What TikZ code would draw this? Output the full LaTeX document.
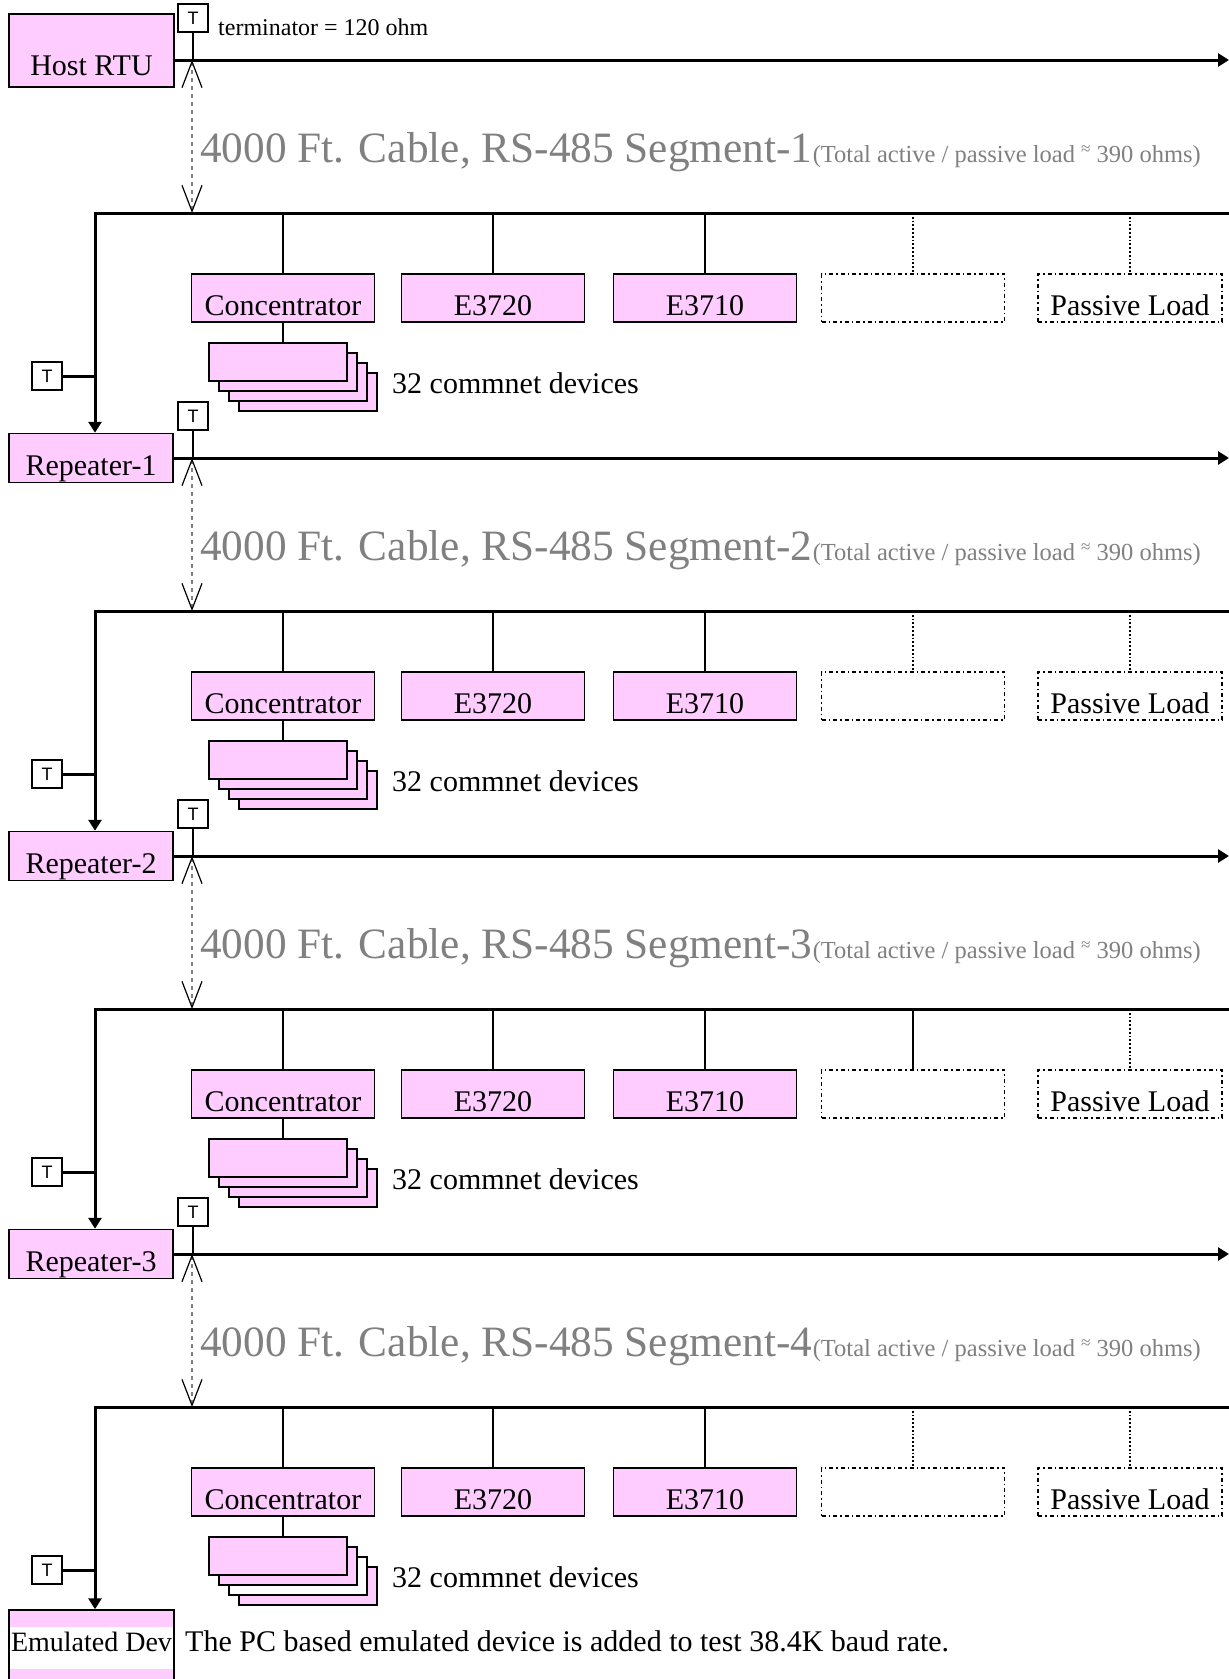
\documentclass[tikz,border=0pt]{standalone}
\usepackage{fontspec}
\setmainfont{Liberation Serif}
\setsansfont{Liberation Sans}
\usetikzlibrary{arrows.meta}
\definecolor{boxpink}{RGB}{255,204,255}
\definecolor{cablegray}{RGB}{128,128,128}
\newcommand\bodyfont{\fontsize{30}{36}\selectfont}

\begin{document}
\begin{tikzpicture}[x=1pt,y=-1pt,
    unit/.style={draw,fill=boxpink,line width=1.5pt,minimum width=183pt,minimum height=48pt,
      inner sep=0pt,text height=34pt,text depth=0pt,font=\bodyfont},
    spare/.style={unit,fill=none,dash pattern=on 4pt off 3pt on 1.5pt off 3pt},
    card/.style={draw,line width=1.5pt,minimum width=138pt,minimum height=38pt,inner sep=0pt},
    term/.style={draw,line width=1.2pt,minimum width=30pt,minimum height=28pt,inner sep=0pt,
      font=\sffamily\fontsize{18}{18}\selectfont},
    bus/.style={line width=3pt},
    drop/.style={line width=1.5pt},
    dropdot/.style={line width=1.8pt,dotted},
    cable/.style={cablegray,line width=1.2pt,dash pattern=on 4pt off 4pt,
      {Straight Barb[length=26pt,width=20pt,color=black,line width=1.2pt]}-{Straight Barb[length=26pt,width=20pt,color=black,line width=1.2pt]}},
    tip/.style={-{Triangle[length=11pt,width=13pt]}}]
  \useasboundingbox (0,0) rectangle (1229,1679);

  \node[unit,minimum width=165pt,minimum height=73pt,text height=49pt] (host) at (91.5,50.5) {Host RTU};
  \foreach \r in {1,2,3}
    \node[unit,minimum width=164pt,minimum height=49pt] (rep\r) at (91,60+398*\r) {Repeater-\r};
  \node[unit,minimum width=165pt,minimum height=100pt,text height=21pt,text depth=38pt,
    font=\fontsize{28}{34}\selectfont,
    path picture={\fill[white] ([yshift=-17pt]path picture bounding box.north west)
      rectangle ([yshift=-59pt]path picture bounding box.north east);}]
    (emu) at (91.5,1660) {\makebox[165pt]{Emulated Dev}};

  \foreach \s/\src/\dst/\sd in {1/host/rep1/dropdot,2/rep1/rep2/dropdot,3/rep2/rep3/drop,4/rep3/emu/dropdot}
  {
    \pgfmathsetmacro\yb{60+398*(\s-1)}
    \coordinate (in\s) at (192,\yb);
    \coordinate (bus\s) at (95,\yb+153);
    \draw[bus,tip] (\src.east |- in\s) -- (1229,\yb);
    \node[term] (tt\s) at (193,\yb-42) {T};
    \draw[drop] (tt\s.south) -- (tt\s.south |- in\s);
    \draw[cable] (in\s) -- (in\s |- bus\s);
    \node[anchor=base west,inner sep=0pt,text=cablegray,font=\fontsize{43.3}{44}\selectfont]
      (seg\s) at (200,\yb+102) {4000 Ft. Cable, RS-485 Segment-\s};
    \node[anchor=base west,inner sep=0pt,text=cablegray,font=\fontsize{24.5}{25}\selectfont]
      (load\s) at (seg\s.base east) {(Total active / passive load \raisebox{.3em}{\scalebox{.7}{≈}} 390 ohms)};

    \draw[bus,tip] (1229,\yb+153) -- (bus\s) -- (bus\s |- \dst.north);
    \node[term] (tl\s) at (47,\yb+316) {T};
    \draw[bus] (tl\s) -- (tl\s -| bus\s);

    \foreach \n/\lbl/\cx in {conc/Concentrator/283,ea/E3720/493,eb/E3710/705}
    {
      \node[unit] (\n\s) at (\cx,\yb+238) {\lbl};
      \draw[drop] (\n\s.north |- bus\s) -- (\n\s.north);
    }
    \node[spare] (spare\s) at (913,\yb+238) {};
    \node[spare,minimum width=184pt] (pass\s) at (1130,\yb+238) {Passive Load};
    \draw[\sd] (spare\s.north |- bus\s) -- (spare\s.north);
    \draw[dropdot] (pass\s.north |- bus\s) -- (pass\s.north);

    \foreach \k in {3,2,1,0}
    {
      \ifnum\s\k=42 \def\cardfill{white}\else\def\cardfill{boxpink}\fi
      \node[card,fill=\cardfill] (card\s\k) at (278+10*\k,\yb+302+10*\k) {};
    }
    \draw[drop] (conc\s.south) -- (conc\s.south |- card\s0.north);
    \node[anchor=base west,inner sep=0pt,font=\bodyfont] (devs\s) at (392,\yb+333) {32 commnet devices};
  }

  \node[anchor=base west,inner sep=0pt,font=\fontsize{24}{24}\selectfont] (termtxt) at (218,35) {terminator = 120 ohm};
  \node[anchor=base west,inner sep=0pt,font=\bodyfont] (emutxt) at (185,1651)
    {The PC based emulated device is added to test 38.4K baud rate.};
\end{tikzpicture}
\end{document}
